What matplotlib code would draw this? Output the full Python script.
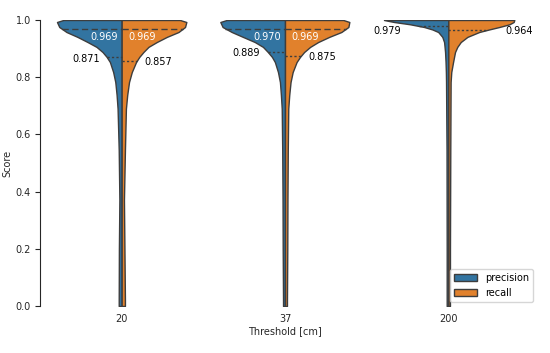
import numpy as np
import matplotlib
matplotlib.use('Agg')
import matplotlib.pyplot as plt
from matplotlib.patches import Patch

thresholds = ['20', '37', '200']
hues = ['precision', 'recall']
colors = ['#3274a1', '#e1812c']
edge = '#3d3d3d'

# violin outlines: score levels and half-widths (category units)
levels_a = [1.0, 0.993, 0.9755, 0.958, 0.941, 0.923, 0.906, 0.888, 0.871, 0.853,
            0.818, 0.783, 0.738, 0.690, 0.545, 0.371, 0.196, 0.021, 0.0]
prec_20 = [0.357, 0.396, 0.382, 0.338, 0.271, 0.209, 0.154, 0.117, 0.092, 0.072,
           0.052, 0.039, 0.031, 0.025, 0.018, 0.014, 0.017, 0.018, 0.018]
rec_20 = [0.357, 0.396, 0.388, 0.348, 0.277, 0.215, 0.164, 0.133, 0.108, 0.088,
          0.062, 0.045, 0.034, 0.026, 0.020, 0.014, 0.017, 0.020, 0.020]
prec_37 = [0.357, 0.396, 0.382, 0.326, 0.258, 0.185, 0.135, 0.105, 0.080, 0.062,
           0.043, 0.031, 0.025, 0.020, 0.017, 0.015, 0.014, 0.012, 0.012]
rec_37 = [0.357, 0.394, 0.388, 0.345, 0.271, 0.203, 0.154, 0.117, 0.092, 0.071,
          0.047, 0.034, 0.026, 0.020, 0.017, 0.015, 0.014, 0.012, 0.012]
levels_b = [1.0, 0.993, 0.985, 0.9755, 0.967, 0.958, 0.941, 0.923, 0.906, 0.888,
            0.853, 0.818, 0.783, 0.545, 0.196, 0.0]
prec_200 = [0.394, 0.332, 0.234, 0.148, 0.098, 0.062, 0.037, 0.026, 0.023, 0.020,
            0.017, 0.015, 0.014, 0.011, 0.010, 0.010]
rec_200 = [0.404, 0.400, 0.374, 0.312, 0.250, 0.189, 0.117, 0.076, 0.055, 0.041,
           0.029, 0.018, 0.014, 0.012, 0.010, 0.010]

median_prec = [0.969, 0.970, None]
median_rec = [0.969, 0.969, None]
mean_prec = [0.871, 0.889, 0.979]
mean_rec = [0.857, 0.875, 0.964]

profiles = [
    (levels_a, prec_20, rec_20),
    (levels_a, prec_37, rec_37),
    (levels_b, prec_200, rec_200),
]

PX = 0.72  # points per pixel at dpi 100
# label offsets (pixels) relative to violin center / stat line
mean_p_dx = [-21.7, -25.5, -47.0]
mean_p_dy = [-1.7, -1.3, -5.3]
mean_r_dx = [22.3, 23.0, 57.0]
mean_r_dy = [-0.7, -1.0, -1.0]

plt.rcParams['font.family'] = ['DejaVu Sans']
fs = 7

fig = plt.figure(figsize=(5.5, 3.53), dpi=100)
ax = fig.add_axes([40 / 550, 1 - 306 / 353, 490 / 550, 286 / 353])

pos = np.arange(len(thresholds))
for i, (lev, wp, wr) in enumerate(profiles):
    c = pos[i]
    y = np.array(lev)[::-1]
    p = np.array(wp)[::-1]
    r = np.array(wr)[::-1]
    ax.fill_betweenx(y, c, c - p, facecolor=colors[0], edgecolor=edge, linewidth=1.0, zorder=2)
    ax.fill_betweenx(y, c, c + r, facecolor=colors[1], edgecolor=edge, linewidth=1.0, zorder=2)

    # medians
    if median_prec[i] is not None:
        m = median_prec[i]
        hw = np.interp(m, y, p)
        ax.plot([c - hw, c], [m, m], color=edge, lw=1.0, dashes=(4.5, 2.5), zorder=3)
        ax.annotate(f'{m:.3f}', xy=(c, m), xytext=(-3.5 * PX, -8 * PX), textcoords='offset points',
                    ha='right', va='center', color='white', fontsize=fs)
    if median_rec[i] is not None:
        m = median_rec[i]
        hw = np.interp(m, y, r)
        ax.plot([c, c + hw], [m, m], color=edge, lw=1.0, dashes=(4.5, 2.5), zorder=3)
        ax.annotate(f'{m:.3f}', xy=(c, m), xytext=(6.6 * PX, -8 * PX), textcoords='offset points',
                    ha='left', va='center', color='white', fontsize=fs)
    # means
    m = mean_prec[i]
    hw = np.interp(m, y, p)
    ax.plot([c - hw, c], [m, m], color=edge, lw=1.0, dashes=(1.6, 1.6), zorder=3)
    ax.annotate(f'{m:.3f}', xy=(c, m), xytext=(mean_p_dx[i] * PX, mean_p_dy[i] * PX),
                textcoords='offset points', ha='right', va='center', color='black', fontsize=fs)
    m = mean_rec[i]
    hw = np.interp(m, y, r)
    ax.plot([c, c + hw], [m, m], color=edge, lw=1.0, dashes=(1.6, 1.6), zorder=3)
    ax.annotate(f'{m:.3f}', xy=(c, m), xytext=(mean_r_dx[i] * PX, mean_r_dy[i] * PX),
                textcoords='offset points', ha='left', va='center', color='black', fontsize=fs)

ax.set_xlim(-0.5, 2.5)
ax.set_ylim(0, 1)
ax.set_xticks(pos)
ax.set_xticklabels(thresholds)
ax.set_yticks(np.arange(0, 1.01, 0.2))
ax.set_yticklabels([f'{v:.1f}' for v in np.arange(0, 1.01, 0.2)])
ax.tick_params(axis='x', length=0, labelsize=fs, colors='#262626', pad=6)
ax.tick_params(axis='y', length=3.5, width=0.8, labelsize=fs, colors='#262626', pad=3)
ax.set_xlabel('Threshold [cm]', fontsize=fs, color='#262626', labelpad=1)
ax.set_ylabel('Score', fontsize=fs, color='#262626', labelpad=2)
for s in ['top', 'right', 'bottom']:
    ax.spines[s].set_visible(False)
ax.spines['left'].set_color('#262626')
ax.spines['left'].set_linewidth(0.8)

handles = [Patch(facecolor=colors[k], edgecolor=edge, linewidth=1.0, label=hues[k]) for k in range(2)]
leg = ax.legend(handles=handles, loc='lower right', bbox_to_anchor=(533 / 550, 1 - 302 / 353),
                bbox_transform=fig.transFigure, borderaxespad=0, fontsize=fs, frameon=True,
                handlelength=2.4)
leg.get_frame().set_edgecolor('#cccccc')

fig.savefig('out.png', dpi=100)
